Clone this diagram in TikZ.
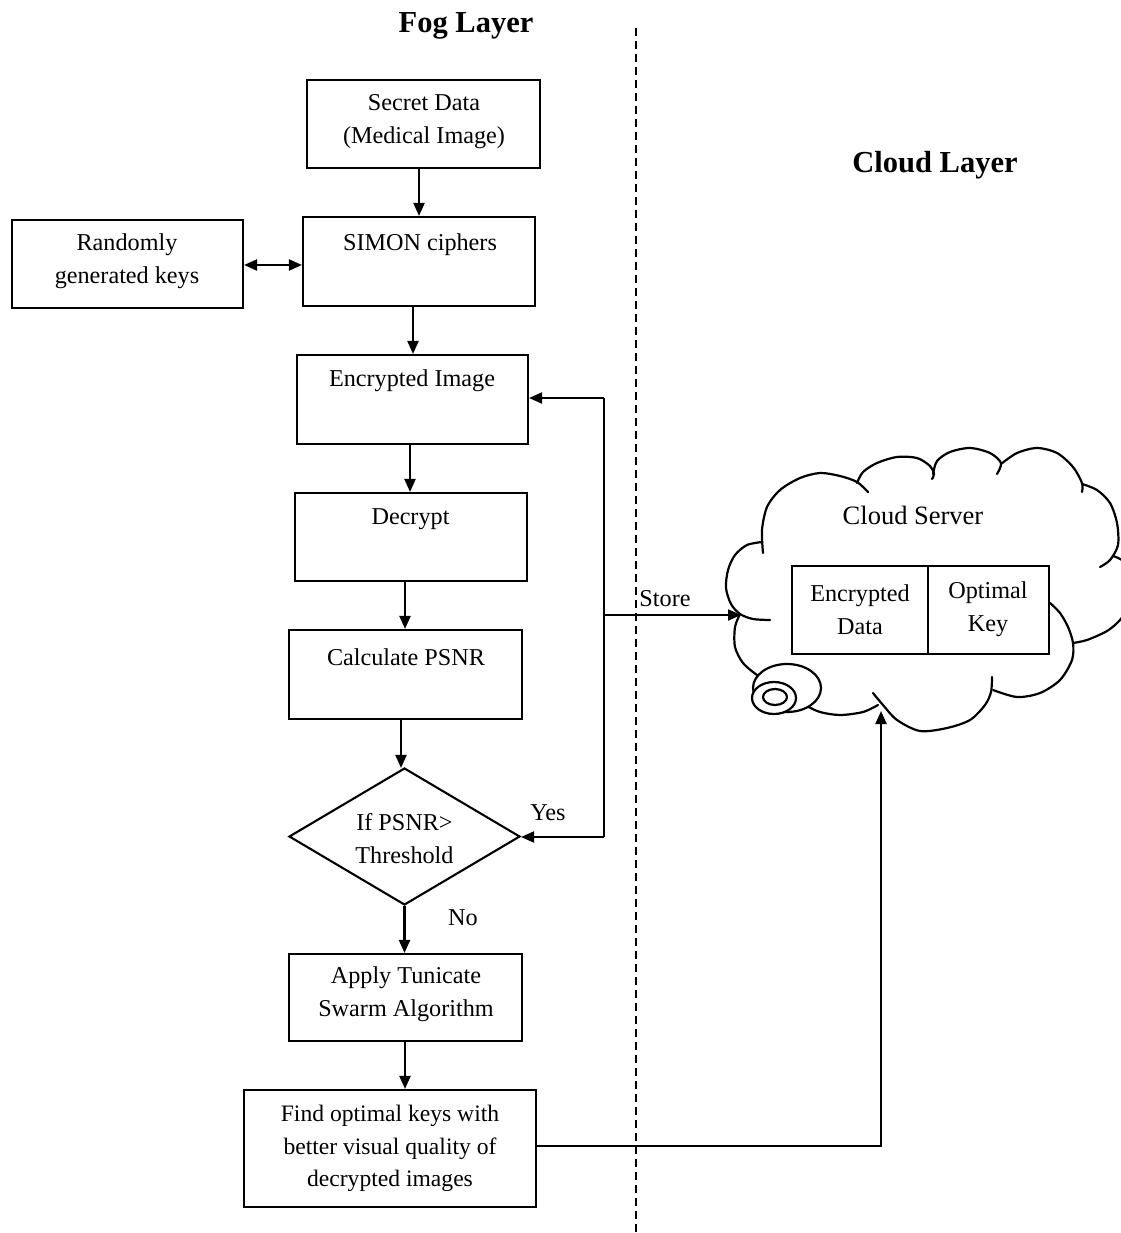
\documentclass[tikz,border=0pt]{standalone}
\usepackage{fontspec}
\setmainfont{Liberation Serif}
\usetikzlibrary{arrows.meta,shapes.geometric}

\begin{document}
\begin{tikzpicture}[x=1pt,y=-1pt,
  every node/.style={font=\fontsize{24.2}{33}\selectfont},
  stepbox/.style={draw, line width=2.1pt, rectangle, inner sep=0pt},
  txt/.style={align=center, inner sep=0pt},
  title/.style={inner sep=0pt, font=\fontsize{30.5}{36}\selectfont\bfseries},
  arr/.style={line width=2.1pt, -{Triangle[length=13pt,width=11pt]}},
  link/.style={line width=2.1pt},
  cloudline/.style={line width=2.2pt, line cap=round}]

\useasboundingbox (0,0) rectangle (1120,1233);

% layer titles and the divider between them
\node[title] (fogT) at (466,26) {Fog Layer};
\node[title] (cloudT) at (935,165) {Cloud Layer};
\coordinate (divTop) at (636,28);
\coordinate (divBot) at (636,1233);
\draw[line width=2.6pt, dash pattern=on 8pt off 5pt] (divTop) -- (divBot);

% flowchart boxes
\node[stepbox, minimum width=233pt, minimum height=88pt] (secret) at (423.5,124) {};
\node[txt] (secretT) at (424,121.5) {Secret Data\\(Medical Image)};

\node[stepbox, minimum width=232pt, minimum height=89pt] (simon) at (419,261.5) {};
\node[txt] (simonT) at (420,245) {SIMON ciphers};

\node[stepbox, minimum width=231pt, minimum height=88pt] (rand) at (127.5,264) {};
\node[txt] (randT) at (127,261.5) {Randomly\\generated keys};

\node[stepbox, minimum width=231pt, minimum height=89pt] (enc) at (412.5,399.5) {};
\node[txt] (encT) at (412,381) {Encrypted Image};

\node[stepbox, minimum width=232pt, minimum height=88pt] (dec) at (411,537) {};
\node[txt] (decT) at (410.5,519) {Decrypt};

\node[stepbox, minimum width=233pt, minimum height=89pt] (calc) at (405.5,674.5) {};
\node[txt] (calcT) at (406,657) {Calculate PSNR};

\node[diamond, draw, line width=2.1pt, inner sep=0pt, minimum width=231pt, minimum height=137pt] (dia) at (404.5,836.5) {};
\node[txt] (diaT) at (404.5,838.5) {If PSNR>\\Threshold};

\node[stepbox, minimum width=233pt, minimum height=87pt] (apply) at (405.5,997.5) {};
\node[txt] (applyT) at (406,994.5) {Apply Tunicate\\Swarm Algorithm};

\node[stepbox, minimum width=292pt, minimum height=117pt] (find) at (390,1148.5) {};
\node[txt, font=\fontsize{23.6}{32.5}\selectfont] (findT) at (390,1148.5) {Find optimal keys with\\better visual quality of\\decrypted images};

% vertical flow
\draw[arr] ([xshift=-4.5pt]secret.south) -- (simon.north);
\draw[arr] ([xshift=-6pt]simon.south) -- ([xshift=0.5pt]enc.north);
\draw[arr] ([xshift=-2.5pt]enc.south) -- ([xshift=-1pt]dec.north);
\draw[arr] ([xshift=-6pt]dec.south) -- ([xshift=-0.5pt]calc.north);
\draw[arr] ([xshift=-4.5pt]calc.south) -- ([xshift=-3.5pt,yshift=-1pt]dia.north);
\draw[arr] (dia.south) -- (dia.south |- apply.north);
\draw[arr] ([xshift=-0.5pt]apply.south) -- ([xshift=15pt]find.north);

% key exchange
\coordinate (keyLink) at (0,265);
\draw[line width=2.1pt, {Triangle[length=13pt,width=11pt]}-{Triangle[length=13pt,width=11pt]}] (rand.east |- keyLink) -- (simon.west |- keyLink);

% feedback loop and store branch
\coordinate (loopTop) at (604,398);
\coordinate (loopBot) at (604,837);
\coordinate (storeFrom) at (604,615);
\coordinate (cloudIn) at (741,615);
\draw[link] (loopTop) -- (loopBot);
\draw[arr] (loopTop) -- (enc.east |- loopTop);
\draw[arr] (loopBot) -- (dia.east |- loopBot);
\draw[arr] (storeFrom) -- (cloudIn);
\node[txt] (yesT) at (548,813) {Yes};
\node[txt] (noT) at (463,918) {No};
\node[txt] (storeT) at (665,599) {Store};

% cloud outline
\draw[cloudline] plot[smooth] coordinates {(762,542) (747,545) (735,555) (728,570) (726,588) (731,604) (740,614) (753,619) (770,620)};
\draw[cloudline] plot[smooth] coordinates {(763,553) (762,530) (767,507) (780,490) (800,478) (820,473) (840,476) (857,482) (868,492)};
\draw[cloudline] plot[smooth] coordinates {(857,483) (863,472) (877,463) (897,457) (917,458) (930,466) (934,474) (932,479)};
\draw[cloudline] plot[smooth] coordinates {(933,474) (937,461) (950,452) (970,448) (990,453) (1001,463) (997,474)};
\draw[cloudline] plot[smooth] coordinates {(1001,464) (1017,453) (1037,448) (1057,453) (1073,467) (1082,483) (1082,492)};
\draw[cloudline] plot[smooth] coordinates {(1082,484) (1097,490) (1110,503) (1117,523) (1118,545) (1110,560) (1100,567)};
\draw[cloudline] plot[smooth] coordinates {(1113,556) (1124,562) (1132,582) (1129,605) (1120,620) (1107,631) (1087,640) (1073,643)};
\draw[cloudline] plot[smooth] coordinates {(1050,603) (1060,613) (1068,627) (1073,643) (1072,660) (1060,680) (1040,693) (1017,697) (993,690)};
\draw[cloudline] plot[smooth] coordinates {(992,677) (991,692) (985,705) (970,720) (947,728) (920,731) (897,720) (883,705) (873,693)};
\draw[cloudline] plot[smooth] coordinates {(878,705) (863,712) (840,715) (820,712) (805,705) (795,698)};
\draw[cloudline] plot[smooth] coordinates {(740,614) (735,627) (735,647) (743,663) (757,675) (770,682)};

% thought-bubble rings at the cloud's lower left
\draw[line width=2.2pt, fill=white] (787,688) ellipse [x radius=34pt, y radius=24pt];
\draw[line width=2.2pt, fill=white] (774,698) ellipse [x radius=22pt, y radius=16pt];
\draw[line width=2.2pt] (775,697) ellipse [x radius=12pt, y radius=8pt];

% cloud contents
\node[txt, font=\fontsize{26.5}{33}\selectfont] (serverT) at (913,515) {Cloud Server};
\node[stepbox, fill=white, minimum width=136pt, minimum height=88pt] (encData) at (860,610) {};
\node[stepbox, fill=white, minimum width=121pt, minimum height=88pt] (optKey) at (988.5,610) {};
\node[txt] (encDataT) at (860,609.5) {Encrypted\\Data};
\node[txt] (optKeyT) at (988,609.5) {Optimal\\Key};

% keys sent up to the cloud
\coordinate (cloudBot) at (881,711);
\coordinate (turn) at (881,1146);
\draw[arr] (find.east |- turn) -- (turn) -- (cloudBot);

\end{tikzpicture}
\end{document}
